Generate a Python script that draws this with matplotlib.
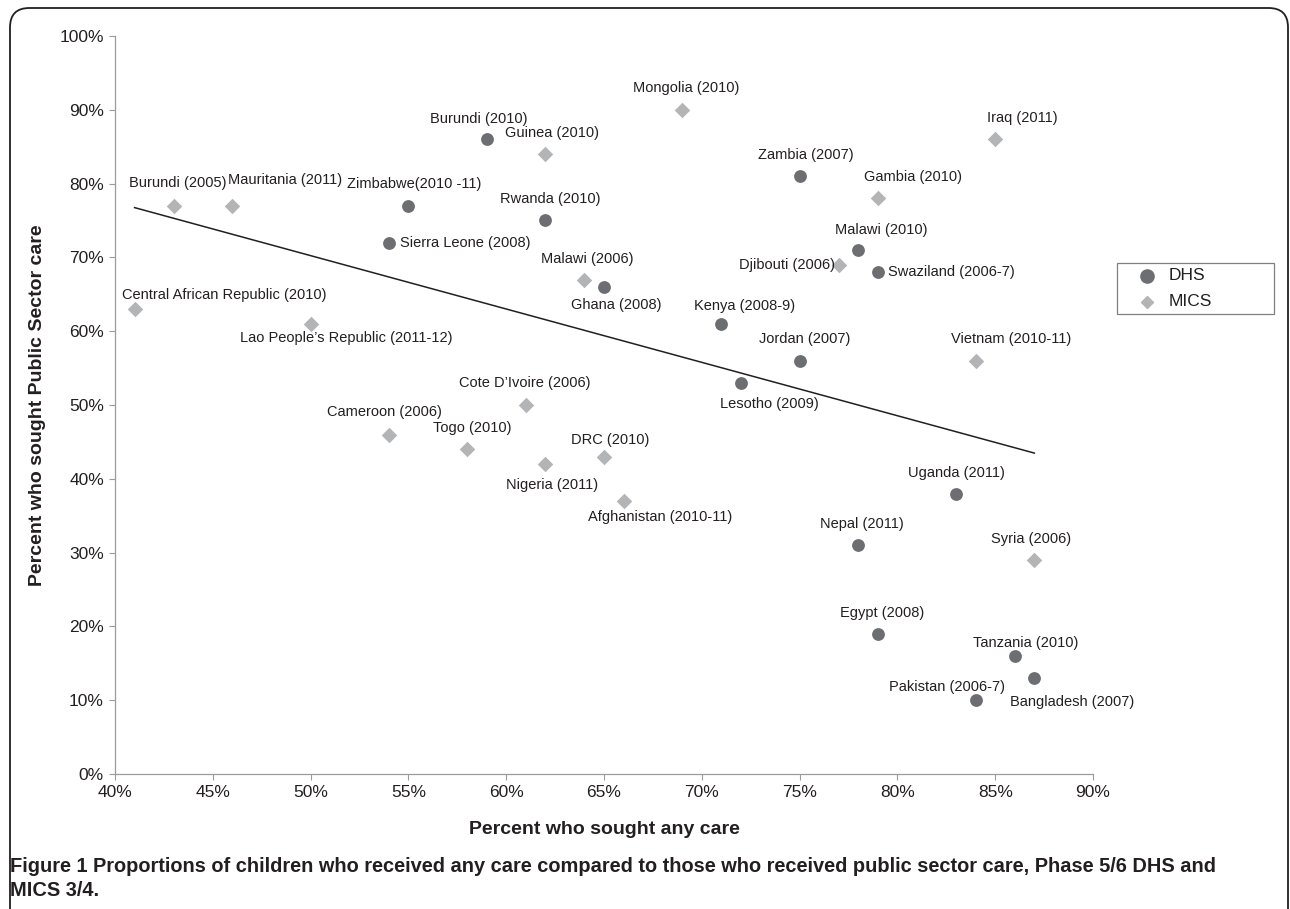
# -*- coding: utf-8 -*-
import numpy as np
import matplotlib
matplotlib.use("Agg")
import matplotlib.pyplot as plt
from matplotlib.patches import FancyBboxPatch, Rectangle
from matplotlib.lines import Line2D

plt.rcParams['font.family'] = ['Liberation Sans', 'DejaVu Sans']

# data: percent who sought any care (x), percent who sought public sector care (y)
dhs_names = ['Burundi (2010)', 'Zimbabwe(2010 -11)', 'Sierra Leone (2008)', 'Rwanda (2010)',
             'Ghana (2008)', 'Zambia (2007)', 'Malawi (2010)', 'Swaziland (2006-7)',
             'Kenya (2008-9)', 'Jordan (2007)', 'Lesotho (2009)', 'Uganda (2011)',
             'Nepal (2011)', 'Egypt (2008)', 'Tanzania (2010)', 'Bangladesh (2007)',
             'Pakistan (2006-7)']
dhs_x = [59, 55, 54, 62, 65, 75, 78, 79, 71, 75, 72, 83, 78, 79, 86, 87, 84]
dhs_y = [86, 77, 72, 75, 66, 81, 71, 68, 61, 56, 53, 38, 31, 19, 16, 13, 10]

mics_names = ['Burundi (2005)', 'Mauritania (2011)', 'Central African Republic (2010)',
              'Lao People\u2019s Republic (2011-12)', 'Guinea (2010)', 'Mongolia (2010)',
              'Malawi (2006)', 'Gambia (2010)', 'Djibouti (2006)', 'Iraq (2011)',
              'Vietnam (2010-11)', 'Cote D\u2019Ivoire (2006)', 'Cameroon (2006)', 'Togo (2010)',
              'Nigeria (2011)', 'DRC (2010)', 'Afghanistan (2010-11)', 'Syria (2006)']
mics_x = [43, 46, 41, 50, 62, 69, 64, 79, 77, 85, 84, 61, 54, 58, 62, 65, 66, 87]
mics_y = [77, 77, 63, 61, 84, 90, 67, 78, 69, 86, 56, 50, 46, 44, 42, 43, 37, 29]

x_ticks = [40, 45, 50, 55, 60, 65, 70, 75, 80, 85, 90]
y_ticks = [0, 10, 20, 30, 40, 50, 60, 70, 80, 90, 100]

# label placement in pixels relative to marker (dx right, dy down), alignment
label_pos = {
    'Burundi (2010)': (-8, -20, 'center'), 'Zimbabwe(2010 -11)': (6, -22, 'center'),
    'Sierra Leone (2008)': (11, 0, 'left'), 'Rwanda (2010)': (5, -21, 'center'),
    'Ghana (2008)': (12, 18, 'center'), 'Zambia (2007)': (6, -21, 'center'),
    'Malawi (2010)': (23, -20, 'center'), 'Swaziland (2006-7)': (10, 0, 'left'),
    'Kenya (2008-9)': (23, -18, 'center'), 'Jordan (2007)': (5, -22, 'center'),
    'Lesotho (2009)': (28, 21, 'center'), 'Uganda (2011)': (0, -21, 'center'),
    'Nepal (2011)': (4, -21, 'center'), 'Egypt (2008)': (4, -21, 'center'),
    'Tanzania (2010)': (11, -13, 'center'), 'Bangladesh (2007)': (38, 24, 'center'),
    'Pakistan (2006-7)': (-29, -13, 'center'),
    'Burundi (2005)': (4, -23, 'center'), 'Mauritania (2011)': (53, -26, 'center'),
    'Central African Republic (2010)': (90, -14, 'center'),
    'Lao People\u2019s Republic (2011-12)': (36, 14, 'center'),
    'Guinea (2010)': (7, -21, 'center'), 'Mongolia (2010)': (4, -22, 'center'),
    'Malawi (2006)': (3, -21, 'center'), 'Gambia (2010)': (35, -21, 'center'),
    'Djibouti (2006)': (-4, 0, 'right'), 'Iraq (2011)': (27, -21, 'center'),
    'Vietnam (2010-11)': (35, -22, 'center'), 'Cote D\u2019Ivoire (2006)': (-1, -22, 'center'),
    'Cameroon (2006)': (-4, -23, 'center'), 'Togo (2010)': (5, -21, 'center'),
    'Nigeria (2011)': (7, 21, 'center'), 'DRC (2010)': (6, -17, 'center'),
    'Afghanistan (2010-11)': (37, 16, 'center'), 'Syria (2006)': (-3, -21, 'center'),
}

dhs_color = '#6d6e71'
mics_color = '#b3b4b6'
text_color = '#231f20'
axis_color = '#9a9b9d'

W, H = 1290, 909
fig = plt.figure(figsize=(12.9, 9.09), dpi=100)
ax = fig.add_axes([115 / W, 1 - 774 / H, (1093 - 115) / W, (774 - 36) / H])

ax.scatter(dhs_x, dhs_y, s=85, marker='o', color=dhs_color, zorder=3, linewidths=0)
ax.scatter(mics_x, mics_y, s=62, marker='D', color=mics_color, zorder=3, linewidths=0)

# linear trend over all countries
all_x = np.array(dhs_x + mics_x, dtype=float)
all_y = np.array(dhs_y + mics_y, dtype=float)
slope, icpt = np.polyfit(all_x, all_y, 1)
tx = np.array([all_x.min(), all_x.max()])
ax.plot(tx, slope * tx + icpt, color='#231f20', lw=1.1, zorder=2)

for names, xs, ys in [(dhs_names, dhs_x, dhs_y), (mics_names, mics_x, mics_y)]:
    for n, x, y in zip(names, xs, ys):
        dx, dy, ha = label_pos[n]
        ax.annotate(n, (x, y), xytext=(dx, -dy), textcoords='offset pixels',
                    ha=ha, va='center', fontsize=10.5, color=text_color, zorder=4)

ax.set_xlim(40, 90)
ax.set_ylim(0, 100)
ax.set_xticks(x_ticks)
ax.set_yticks(y_ticks)
ax.set_xticklabels(['%d%%' % v for v in x_ticks])
ax.set_yticklabels(['%d%%' % v for v in y_ticks])
ax.tick_params(axis='both', direction='out', length=4, width=0.8, color=axis_color,
               labelsize=12.5, labelcolor=text_color, pad=4)
for side in ['top', 'right']:
    ax.spines[side].set_visible(False)
for side in ['left', 'bottom']:
    ax.spines[side].set_color(axis_color)
    ax.spines[side].set_linewidth(0.9)

fig.text(604 / W, 1 - 830 / H, 'Percent who sought any care', ha='center', va='center',
         fontsize=14, fontweight='bold', color=text_color)
fig.text(38 / W, 1 - 405 / H, 'Percent who sought Public Sector care', ha='center',
         va='center', rotation=90, fontsize=14, fontweight='bold', color=text_color)

# legend box drawn by hand to match the wide frame
fig.patches.append(Rectangle((1117 / W, 1 - 314 / H), 157 / W, 51 / H,
                             transform=fig.transFigure, fill=False,
                             edgecolor='#808080', linewidth=0.9))
fig.lines.append(Line2D([1147 / W], [1 - 276 / H], transform=fig.transFigure, marker='o',
                        ls='none', color=dhs_color, markersize=9.5))
fig.lines.append(Line2D([1147 / W], [1 - 302 / H], transform=fig.transFigure, marker='D',
                        ls='none', color=mics_color, markersize=6.5))
fig.text(1169 / W, 1 - 276 / H, 'DHS', ha='left', va='center', fontsize=12.5,
         color=text_color)
fig.text(1169 / W, 1 - 302 / H, 'MICS', ha='left', va='center', fontsize=12.5,
         color=text_color)

# caption
fig.text(10 / W, 1 - 866 / H,
         'Figure 1 Proportions of children who received any care compared to those who '
         'received public sector care, Phase 5/6 DHS and',
         ha='left', va='center', fontsize=14.4, fontweight='bold', color='#231f20')
fig.text(10 / W, 1 - 891 / H, 'MICS 3/4.', ha='left', va='center',
         fontsize=14.4, fontweight='bold', color='#231f20')

# rounded frame
frame = FancyBboxPatch((10 / W, -0.05), 1278 / W, 1 - 8 / H + 0.05,
                       boxstyle='round,pad=0,rounding_size=0.015',
                       transform=fig.transFigure, fill=False, edgecolor='#231f20',
                       linewidth=1.3, mutation_aspect=W / H)
fig.patches.append(frame)

fig.savefig('out.png', dpi=100)
